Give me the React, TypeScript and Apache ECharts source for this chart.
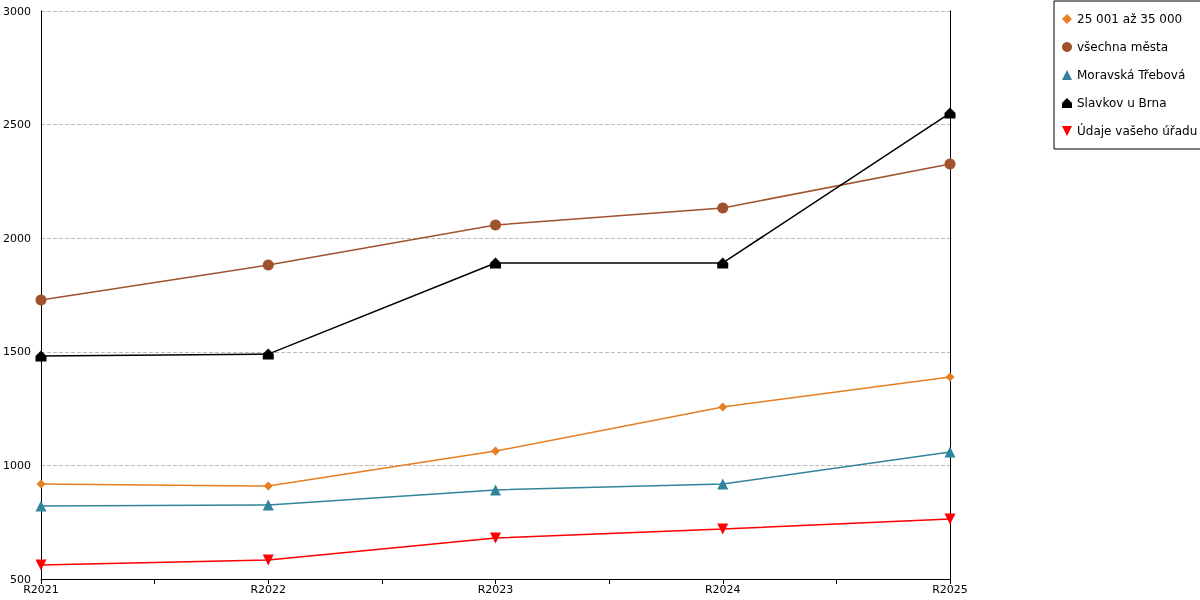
import React, { useEffect, useRef } from "react";
import * as echarts from "echarts";

const categories = ["R2021", "R2022", "R2023", "R2024", "R2025"];
const yTicks = [500, 1000, 1500, 2000, 2500, 3000];

const seriesNames = ["25 001 až 35 000", "všechna města", "Moravská Třebová", "Slavkov u Brna", "Údaje vašeho úřadu"];
const valsPopulation = [918, 909, 1063, 1257, 1389];
const valsAllCities = [1728, 1882, 2058, 2133, 2327];
const valsMoravska = [821, 826, 892, 918, 1059];
const valsSlavkov = [1481, 1490, 1891, 1891, 2551];
const valsOffice = [562, 584, 680, 720, 764];

const colors = ["#e67e22", "#a0522d", "#31849b", "#000000", "#ff0000"];
const symbols = [
  "diamond",
  "circle",
  "triangle",
  "path://M5 0 L10 5 L10 10 L0 10 L0 5 Z",
  "path://M0 0 L10 0 L5 10 Z",
];

const App: React.FC = () => {
  const ref = useRef<HTMLDivElement>(null);

  useEffect(() => {
    if (!ref.current) return;
    const chart = echarts.init(ref.current, undefined, { renderer: "svg" });
    const all = [valsPopulation, valsAllCities, valsMoravska, valsSlavkov, valsOffice];
    chart.setOption({
      animation: false,
      textStyle: { fontFamily: "DejaVu Sans" },
      grid: { left: 41, right: 250, top: 11, bottom: 21 },
      legend: {
        orient: "vertical",
        left: 1054,
        top: 1,
        padding: [12, 34, 12, 8],
        itemGap: 16,
        itemWidth: 10,
        itemHeight: 10,
        borderColor: "#000",
        borderWidth: 1,
        textStyle: { fontSize: 12, color: "#000", fontFamily: "DejaVu Sans" },
        data: seriesNames.map((n, i) => ({ name: n, icon: symbols[i] })),
      },
      xAxis: {
        type: "value",
        min: 0,
        max: 4,
        interval: 0.5,
        axisLine: { lineStyle: { color: "#000" } },
        axisTick: { lineStyle: { color: "#000" }, length: 5 },
        axisLabel: {
          fontSize: 11,
          color: "#000",
          margin: 5,
          formatter: (v: number) => (Number.isInteger(v) ? categories[v] : ""),
        },
        splitLine: { show: false },
      },
      yAxis: [
        {
          type: "value",
          min: yTicks[0],
          max: yTicks[yTicks.length - 1],
          interval: 500,
          axisLine: { show: true, lineStyle: { color: "#000" } },
          axisTick: { show: false },
          axisLabel: { fontSize: 11, color: "#000", margin: 10, formatter: (v: number) => String(v) },
          splitLine: { lineStyle: { type: "dashed", color: "#bbb" } },
        },
        {
          type: "value",
          min: yTicks[0],
          max: yTicks[yTicks.length - 1],
          interval: 500,
          position: "right",
          axisLine: { show: true, lineStyle: { color: "#000" } },
          axisTick: { show: false },
          axisLabel: { show: false },
          splitLine: { show: false },
        },
      ],
      series: seriesNames.map((n, i) => ({
        name: n,
        type: "line",
        data: all[i].map((v, j) => [j, v]),
        symbol: symbols[i],
        symbolSize: i === 0 ? 9 : 11,
        itemStyle: { color: colors[i] },
        lineStyle: { color: colors[i], width: 1.5 },
      })),
    });
    return () => chart.dispose();
  }, []);

  return <div ref={ref} style={{ width: 1200, height: 600, position: "fixed", left: 0, top: 0 }} />;
};

export default App;
